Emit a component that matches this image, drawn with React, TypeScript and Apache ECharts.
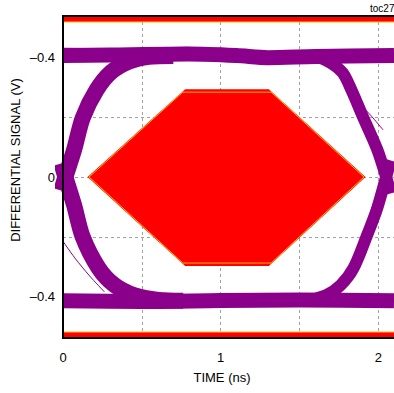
import React, { useEffect, useRef } from "react";
import * as echarts from "echarts";

// ---- axis / tick data ----
const xLabelValues = [0, 1, 2];
const yLabelValues = [-0.4, 0, 0.4];
const yLabelTexts = ["–0.4", "0", "–0.4"];
const yGridValues = [-0.4, -0.2, 0, 0.2, 0.4];

// ---- eye diagram traces [time ns, volts] ----
const topRail = [[0, 0.405], [0.3, 0.407], [0.8, 0.41], [1.1, 0.405], [1.3, 0.398], [1.6, 0.402], [2.1, 0.405]];
const bottomRail = [[0, -0.413], [0.5, -0.415], [1.0, -0.412], [1.5, -0.41], [2.1, -0.413]];
const leftRise = [[-0.01, -0.045], [0.015, 0], [0.07, 0.09], [0.125, 0.197], [0.2125, 0.29], [0.306, 0.35], [0.419, 0.385], [0.544, 0.401], [0.7, 0.404]];
const leftFall = [[-0.01, 0.045], [0.015, 0], [0.07, -0.093], [0.125, -0.2], [0.225, -0.303], [0.325, -0.36], [0.45, -0.394], [0.606, -0.41], [0.7625, -0.413]];
const rightFall = [[1.45, 0.403], [1.6, 0.401], [1.7, 0.38], [1.775, 0.347], [1.83, 0.29], [1.906, 0.197], [1.995, 0.09], [2.05, 0], [2.08, -0.055]];
const rightRise = [[2.08, 0.055], [2.05, 0], [1.99, -0.11], [1.925, -0.2], [1.844, -0.303], [1.7625, -0.36], [1.669, -0.394], [1.544, -0.41], [1.4, -0.412]];
const outlierLeft = [[-0.006, -0.21], [0.075, -0.27], [0.169, -0.33], [0.2625, -0.383]];
const outlierRight = [[1.856, 0.257], [1.95, 0.207], [2.031, 0.157]];
const fringeTop = [[0, 0.43], [0.2, 0.428], [0.5, 0.43], [0.8, 0.433]];

// ---- mask ----
const maskX = [0.156, 0.775, 1.306, 1.919, 1.306, 0.775];
const maskY = [0, 0.293, 0.293, 0, -0.297, -0.297];
const bandTop = 0.517;
const bandBottom = -0.517;

const FONT = '"Liberation Sans", Arial, sans-serif';
const PURPLE = "#8B008B";

export default function App() {
  const ref = useRef<HTMLDivElement>(null);
  useEffect(() => {
    if (!ref.current) return;
    const chart = echarts.init(ref.current, null, { renderer: "svg" });
    const trace = (data: number[][], width: number, smooth: number | boolean = 0.3, color = PURPLE) => ({
      type: "line",
      data,
      smooth,
      symbol: "none",
      clip: true,
      lineStyle: { color, width, cap: "butt", join: "round" },
      z: 2,
    });
    chart.setOption({
      animation: false,
      backgroundColor: "#fff",
      textStyle: { fontFamily: FONT },
      grid: { left: 63, top: 16, width: 336, height: 322, show: false },
      xAxis: {
        type: "value",
        min: 0,
        max: 2.1,
        interval: 0.5,
        axisLine: { show: false },
        axisTick: { show: false },
        axisLabel: {
          customValues: xLabelValues,
          formatter: (v: number) => String(v),
          color: "#000",
          fontSize: 13,
          fontFamily: FONT,
          margin: 13,
        },
        splitLine: { show: true, lineStyle: { color: "#a0a0a0", type: [3, 3], width: 1 } },
      },
      yAxis: {
        type: "value",
        min: -0.537,
        max: 0.537,
        axisLine: { show: false },
        axisTick: { show: false, customValues: yGridValues },
        axisLabel: {
          customValues: yLabelValues,
          formatter: (v: number) => {
            let best = 0;
            yLabelValues.forEach((t, i) => {
              if (Math.abs(t - v) < Math.abs(yLabelValues[best] - v)) best = i;
            });
            return yLabelTexts[best];
          },
          color: "#000",
          fontSize: 13,
          fontFamily: FONT,
          margin: 8,
        },
        splitLine: { show: true, lineStyle: { color: "#a0a0a0", type: [3, 3], width: 1 } },
      },
      graphic: [
        {
          type: "rect",
          shape: { x: 63, y: 16, width: 345, height: 322 },
          style: { fill: "none", stroke: "#000", lineWidth: 2 },
          z: 100,
        },
        {
          type: "text",
          x: 15,
          y: 160,
          rotation: Math.PI / 2,
          style: { text: "DIFFERENTIAL SIGNAL (V)", fontSize: 13, fontFamily: FONT, fill: "#000", align: "center", verticalAlign: "middle" },
        },
        {
          type: "text",
          x: 222,
          y: 377,
          style: { text: "TIME (ns)", fontSize: 13, fontFamily: FONT, fill: "#000", align: "center", verticalAlign: "middle" },
        },
        {
          type: "text",
          x: 370,
          y: 8,
          style: { text: "toc27", fontSize: 10, fontFamily: FONT, fill: "#000", align: "left", verticalAlign: "middle" },
        },
      ],
      series: [
        trace(fringeTop, 1, 0.3, "#b05ab0"),
        trace(topRail, 15),
        trace(bottomRail, 15),
        trace(leftRise, 16),
        trace(leftFall, 16),
        trace(rightFall, 12),
        trace(rightRise, 12),
        trace(outlierLeft, 1),
        trace(outlierRight, 1),
        {
          type: "custom",
          clip: true,
          z: 5,
          data: [[0, 0]],
          renderItem: (params: any, api: any) => {
            const cs = params.coordSys;
            const pts = maskX.map((x, i) => api.coord([x, maskY[i]]));
            const [L, TL, TR, R, BR, BL] = pts;
            const ty = TL[1] + 3;
            const by = BL[1] - 3;
            const xAt = (a: number[], b: number[], y: number) => a[0] + ((b[0] - a[0]) * (y - a[1])) / (b[1] - a[1]);
            const inner = [
              [L[0] + 1.5, L[1]],
              [xAt(L, TL, ty) + 1, ty],
              [xAt(R, TR, ty) - 1, ty],
              [R[0] - 1.5, R[1]],
              [xAt(R, BR, by) - 1, by],
              [xAt(L, BL, by) + 1, by],
            ];
            const yt = api.coord([0, bandTop])[1];
            const yb = api.coord([0, bandBottom])[1];
            return {
              type: "group",
              children: [
                { type: "polygon", shape: { points: pts }, style: { fill: "#ff0000", stroke: "none" } },
                { type: "polygon", shape: { points: inner }, style: { fill: "none", stroke: "#ffb400", lineWidth: 1 } },
                { type: "rect", shape: { x: cs.x, y: cs.y, width: cs.width, height: yt - cs.y }, style: { fill: "#ff0000" } },
                { type: "line", shape: { x1: cs.x, y1: yt, x2: cs.x + cs.width, y2: yt }, style: { stroke: "#ffc000", lineWidth: 1 } },
                { type: "rect", shape: { x: cs.x, y: yb, width: cs.width, height: cs.y + cs.height - yb }, style: { fill: "#ff0000" } },
                { type: "line", shape: { x1: cs.x, y1: yb, x2: cs.x + cs.width, y2: yb }, style: { stroke: "#ffc000", lineWidth: 1 } },
              ],
            };
          },
        },
      ],
    });
    return () => chart.dispose();
  }, []);
  return <div ref={ref} style={{ position: "fixed", left: 0, top: 0, width: 394, height: 393 }} />;
}
